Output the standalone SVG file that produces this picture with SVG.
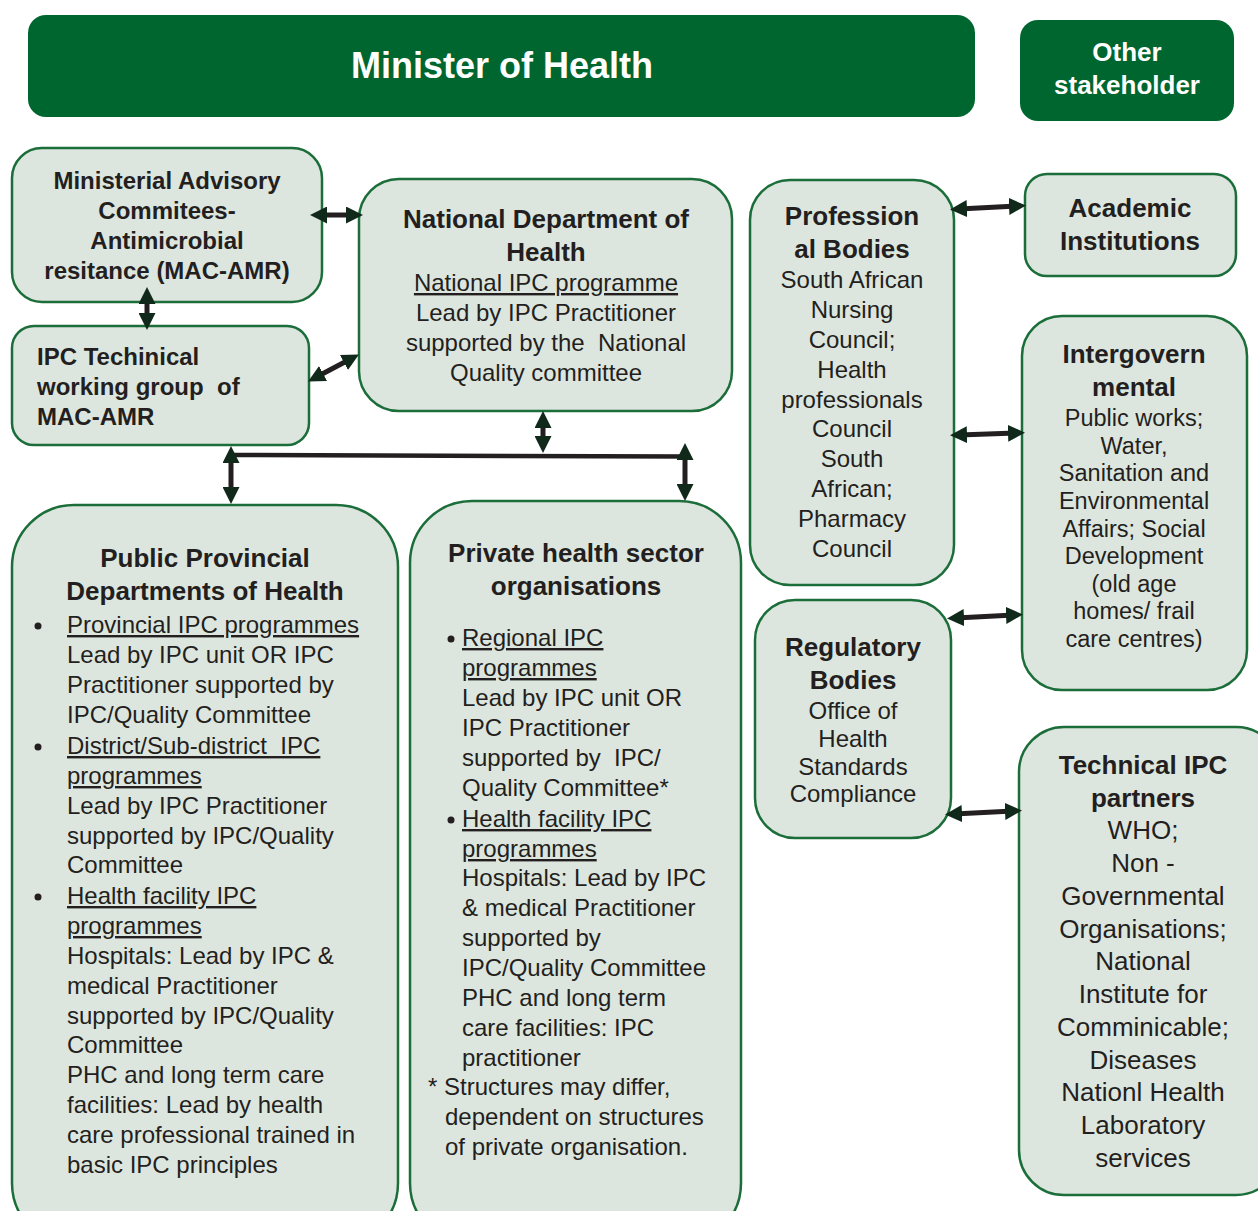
<svg xmlns="http://www.w3.org/2000/svg" width="1258" height="1211" viewBox="0 0 1258 1211">
<style>
.box{fill:#dde6de;stroke:#1b6e3a;stroke-width:2.5}
.hdr{fill:#00662f}
text{font-family:"Liberation Sans",Arial,sans-serif;fill:#231f20}
.w{fill:#ffffff;font-weight:bold}
.b{font-weight:bold;font-size:26px}
.b24{font-weight:bold;font-size:24px}
.r{font-size:24px}
.c{text-anchor:middle}
.u{text-decoration:underline}
.sh{stroke:#231f20;stroke-width:5;fill:none}
.ln{stroke:#231f20;stroke-width:4.5;fill:none}
</style>
<defs>
<marker id="ah" markerUnits="userSpaceOnUse" markerWidth="17" markerHeight="17" viewBox="0 0 17 17" refX="8" refY="8.5" orient="auto-start-reverse">
<path d="M0,0 L17,8.5 L0,17 z" fill="#10291a"/>
</marker>
</defs>
<rect width="1258" height="1211" fill="#ffffff"/>

<g id="minister">
<rect class="hdr" x="28" y="15" width="947" height="102" rx="18"/>
<text class="w c" x="502" y="78" font-size="36">Minister of Health</text>
</g>
<g id="other-stakeholder">
<rect class="hdr" x="1020" y="20" width="214" height="101" rx="18"/>
<text class="w c" x="1127" y="61" font-size="26">Other</text>
<text class="w c" x="1127" y="94" font-size="26">stakeholder</text>
</g>

<g id="mac-amr">
<rect class="box" x="12" y="148" width="310" height="154" rx="30"/>
<text class="b24 c" x="167" y="189">Ministerial Advisory</text>
<text class="b24 c" x="167" y="219">Commitees-</text>
<text class="b24 c" x="167" y="249">Antimicrobial</text>
<text class="b24 c" x="167" y="279">resitance (MAC-AMR)</text>
</g>

<g id="ipc-twg">
<rect class="box" x="12" y="326" width="297" height="119" rx="22"/>
<text class="b24" x="37" y="365">IPC Techinical</text>
<text class="b24" x="37" y="395" xml:space="preserve">working group  of</text>
<text class="b24" x="37" y="425">MAC-AMR</text>
</g>

<g id="national-doh">
<rect class="box" x="359" y="179" width="373" height="232" rx="40"/>
<text class="b c" x="546" y="228">National Department of</text>
<text class="b c" x="546" y="261">Health</text>
<text class="r c u" x="546" y="291">National IPC programme</text>
<text class="r c" x="546" y="321">Lead by IPC Practitioner</text>
<text class="r c" x="546" y="351" xml:space="preserve">supported by the  National</text>
<text class="r c" x="546" y="381">Quality committee</text>
</g>

<g id="professional-bodies">
<rect class="box" x="750" y="180" width="204" height="405" rx="40"/>
<text class="b c" x="852" y="225">Profession</text>
<text class="b c" x="852" y="258">al Bodies</text>
<text class="r c" x="852" y="288">South African</text>
<text class="r c" x="852" y="318">Nursing</text>
<text class="r c" x="852" y="348">Council;</text>
<text class="r c" x="852" y="378">Health</text>
<text class="r c" x="852" y="408">professionals</text>
<text class="r c" x="852" y="437">Council</text>
<text class="r c" x="852" y="467">South</text>
<text class="r c" x="852" y="497">African;</text>
<text class="r c" x="852" y="527">Pharmacy</text>
<text class="r c" x="852" y="557">Council</text>
</g>

<g id="academic">
<rect class="box" x="1025" y="174" width="211" height="102" rx="22"/>
<text class="b c" x="1130" y="217">Academic</text>
<text class="b c" x="1130" y="250">Institutions</text>
</g>

<g id="intergovernmental">
<rect class="box" x="1022" y="316" width="225" height="374" rx="40"/>
<text class="b c" x="1134" y="363">Intergovern</text>
<text class="b c" x="1134" y="396">mental</text>
<text class="c" font-size="23.5" x="1134" y="426">Public works;</text>
<text class="c" font-size="23.5" x="1134" y="454">Water,</text>
<text class="c" font-size="23.5" x="1134" y="481">Sanitation and</text>
<text class="c" font-size="23.5" x="1134" y="509">Environmental</text>
<text class="c" font-size="23.5" x="1134" y="537">Affairs; Social</text>
<text class="c" font-size="23.5" x="1134" y="564">Development</text>
<text class="c" font-size="23.5" x="1134" y="592">(old age</text>
<text class="c" font-size="23.5" x="1134" y="619">homes/ frail</text>
<text class="c" font-size="23.5" x="1134" y="647">care centres)</text>
</g>

<g id="regulatory">
<rect class="box" x="755" y="600" width="196" height="238" rx="40"/>
<text class="b c" x="853" y="656">Regulatory</text>
<text class="b c" x="853" y="689">Bodies</text>
<text class="r c" x="853" y="719">Office of</text>
<text class="r c" x="853" y="747">Health</text>
<text class="r c" x="853" y="775">Standards</text>
<text class="r c" x="853" y="802">Compliance</text>
</g>

<g id="technical-partners">
<rect class="box" x="1019" y="727" width="262" height="468" rx="45"/>
<text class="b c" x="1143" y="774">Technical IPC</text>
<text class="b c" x="1143" y="807">partners</text>
<text class="c" font-size="26" x="1143" y="839">WHO;</text>
<text class="c" font-size="26" x="1143" y="872">Non -</text>
<text class="c" font-size="26" x="1143" y="905">Governmental</text>
<text class="c" font-size="26" x="1143" y="938">Organisations;</text>
<text class="c" font-size="26" x="1143" y="970">National</text>
<text class="c" font-size="26" x="1143" y="1003">Institute for</text>
<text class="c" font-size="26" x="1143" y="1036">Comminicable;</text>
<text class="c" font-size="26" x="1143" y="1069">Diseases</text>
<text class="c" font-size="26" x="1143" y="1101">Nationl Health</text>
<text class="c" font-size="26" x="1143" y="1134">Laboratory</text>
<text class="c" font-size="26" x="1143" y="1167">services</text>
</g>

<g id="public-provincial">
<rect class="box" x="12" y="505" width="386" height="740" rx="62"/>
<text class="b c" x="205" y="567">Public Provincial</text>
<text class="b c" x="205" y="600">Departments of Health</text>
<circle cx="38" cy="626" r="3.5" fill="#231f20"/>
<text class="r u" x="67" y="633">Provincial IPC programmes</text>
<text class="r" x="67" y="663">Lead by IPC unit OR IPC</text>
<text class="r" x="67" y="693">Practitioner supported by</text>
<text class="r" x="67" y="723">IPC/Quality Committee</text>
<circle cx="38" cy="747" r="3.5" fill="#231f20"/>
<text class="r u" x="67" y="754" xml:space="preserve">District/Sub-district  IPC</text>
<text class="r u" x="67" y="784">programmes</text>
<text class="r" x="67" y="814">Lead by IPC Practitioner</text>
<text class="r" x="67" y="844">supported by IPC/Quality</text>
<text class="r" x="67" y="873">Committee</text>
<circle cx="38" cy="897" r="3.5" fill="#231f20"/>
<text class="r u" x="67" y="904">Health facility IPC</text>
<text class="r u" x="67" y="934">programmes</text>
<text class="r" x="67" y="964">Hospitals: Lead by IPC &amp;</text>
<text class="r" x="67" y="994">medical Practitioner</text>
<text class="r" x="67" y="1024">supported by IPC/Quality</text>
<text class="r" x="67" y="1053">Committee</text>
<text class="r" x="67" y="1083">PHC and long term care</text>
<text class="r" x="67" y="1113">facilities: Lead by health</text>
<text class="r" x="67" y="1143">care professional trained in</text>
<text class="r" x="67" y="1173">basic IPC principles</text>
</g>

<g id="private-sector">
<rect class="box" x="410" y="501" width="331" height="744" rx="62"/>
<text class="b c" x="576" y="562">Private health sector</text>
<text class="b c" x="576" y="595">organisations</text>
<circle cx="451" cy="639" r="3.5" fill="#231f20"/>
<text class="r u" x="462" y="646">Regional IPC</text>
<text class="r u" x="462" y="676">programmes</text>
<text class="r" x="462" y="706">Lead by IPC unit OR</text>
<text class="r" x="462" y="736">IPC Practitioner</text>
<text class="r" x="462" y="766" xml:space="preserve">supported by  IPC/</text>
<text class="r" x="462" y="796">Quality Committee*</text>
<circle cx="451" cy="820" r="3.5" fill="#231f20"/>
<text class="r u" x="462" y="827">Health facility IPC</text>
<text class="r u" x="462" y="857">programmes</text>
<text class="r" x="462" y="886">Hospitals: Lead by IPC</text>
<text class="r" x="462" y="916">&amp; medical Practitioner</text>
<text class="r" x="462" y="946">supported by</text>
<text class="r" x="462" y="976">IPC/Quality Committee</text>
<text class="r" x="462" y="1006">PHC and long term</text>
<text class="r" x="462" y="1036">care facilities: IPC</text>
<text class="r" x="462" y="1066">practitioner</text>
<text class="r" x="428" y="1095">* Structures may differ,</text>
<text class="r" x="445" y="1125">dependent on structures</text>
<text class="r" x="445" y="1155">of private organisation.</text>
</g>

<g id="connectors">
<line class="sh" x1="319" y1="215" x2="354" y2="215" marker-start="url(#ah)" marker-end="url(#ah)"/>
<line class="sh" x1="147" y1="296" x2="147" y2="321" marker-start="url(#ah)" marker-end="url(#ah)"/>
<line class="sh" x1="316" y1="377.3" x2="351" y2="358.7" marker-start="url(#ah)" marker-end="url(#ah)"/>
<line class="sh" x1="543" y1="420" x2="543" y2="444" marker-start="url(#ah)" marker-end="url(#ah)"/>
<line class="ln" x1="229" y1="455" x2="687" y2="456.5"/>
<line class="sh" x1="231" y1="455" x2="231" y2="495" marker-start="url(#ah)" marker-end="url(#ah)"/>
<line class="sh" x1="685" y1="452" x2="685" y2="492" marker-start="url(#ah)" marker-end="url(#ah)"/>
<line class="sh" x1="959" y1="209" x2="1017" y2="206" marker-start="url(#ah)" marker-end="url(#ah)"/>
<line class="sh" x1="959" y1="435" x2="1016" y2="433" marker-start="url(#ah)" marker-end="url(#ah)"/>
<line class="sh" x1="956" y1="618" x2="1014" y2="615" marker-start="url(#ah)" marker-end="url(#ah)"/>
<line class="sh" x1="954" y1="814" x2="1013" y2="811" marker-start="url(#ah)" marker-end="url(#ah)"/>
</g>
</svg>
